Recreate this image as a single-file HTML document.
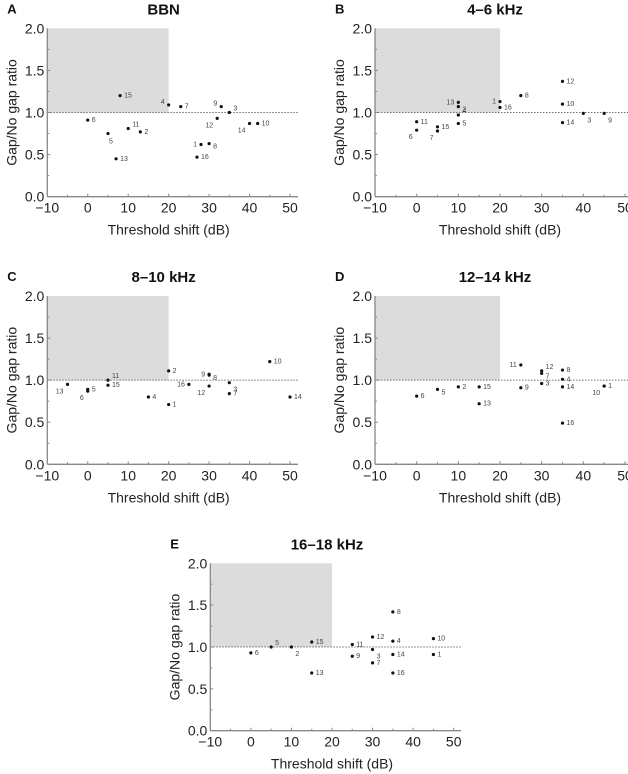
<!DOCTYPE html>
<html><head><meta charset="utf-8"><style>
html,body{margin:0;padding:0;background:#fff;}
svg{display:block;font-family:"Liberation Sans",Arial,sans-serif;}
</style></head><body>
<svg id="fig" width="628" height="774" viewBox="0 0 628 774" xmlns="http://www.w3.org/2000/svg"></svg>
<script>
// ---- data ----
const xTicks=[-10,0,10,20,30,40,50];
const yTicks=[0,0.5,1,1.5,2];
const yTickLabels=["0.0","0.5","1.0","1.5","2.0"];
const titles=["BBN","4–6 kHz","8–10 kHz","12–14 kHz","16–18 kHz"];
const letters=["A","B","C","D","E"];
// panel A
const aX=[0,5,7,8,10,13,20,23,27,28,30,32,33,35,40,42];
const aY=[0.91,0.75,0.45,1.2,0.81,0.77,1.09,1.07,0.47,0.62,0.63,0.93,1.07,1.0,0.87,0.87];
const aL=[6,5,13,15,11,2,4,7,16,1,8,12,9,3,14,10];
const aPos=["r","b","r","r","ru","r","lu","r","r","l","rd","lb","lu","ru","lb","r"];
// panel B
const bX=[0,0,5,5,10,10,10,10,20,20,25,35,35,35,40,45];
const bY=[0.89,0.79,0.83,0.78,1.12,1.07,0.97,0.87,1.13,1.06,1.2,1.37,1.1,0.88,0.99,0.99];
const bL=[11,6,15,7,13,2,4,5,1,16,8,12,10,14,3,9];
const bPos=["r","lb","r","lb","l","rd","ru","r","l","r","r","r","r","r","rb","rb"];
// panel C
const cX=[-5,0,0,5,5,15,20,20,25,30,30,30,35,35,45,50];
const cY=[0.95,0.89,0.87,1.0,0.94,0.8,1.11,0.71,0.95,1.07,1.06,0.93,0.97,0.84,1.22,0.8];
const cL=[13,5,6,11,15,4,2,1,16,9,8,12,3,7,10,14];
const cPos=["lb","r","lb","ru","r","r","r","r","l","l","rd","lb","rb","r","r","r"];
// panel D
const dX=[0,5,10,15,15,25,25,30,30,30,35,35,35,35,45,45];
const dY=[0.81,0.89,0.92,0.92,0.72,1.18,0.91,1.11,1.08,0.96,1.12,1.01,0.92,0.49,0.93,0.93];
const dL=[6,5,2,15,13,11,9,12,7,3,8,4,14,16,1,10];
const dPos=["r","rd","r","r","r","l","r","ru","rd","r","r","r","r","r","r","lb"];
// panel E
const eX=[0,5,10,15,15,25,25,30,30,30,35,35,35,35,45,45];
const eY=[0.93,1.0,1.0,1.06,0.69,1.03,0.89,1.12,0.97,0.81,1.42,1.07,0.91,0.69,1.1,0.91];
const eL=[6,5,2,15,13,11,9,12,3,7,8,4,14,16,10,1];
const ePos=["r","ru","rb","r","r","r","r","r","rb","r","r","r","r","r","r","r"];

const panels=[
 {x0:47.3,x1:290,xEnd:298,y2:28.3,y0:196.7,X:aX,Y:aY,L:aL,P:aPos},
 {x0:375,x1:625,xEnd:628,y2:28.3,y0:196.7,X:bX,Y:bY,L:bL,P:bPos},
 {x0:47.3,x1:290,xEnd:298,y2:296,y0:464.3,X:cX,Y:cY,L:cL,P:cPos},
 {x0:375,x1:625,xEnd:628,y2:296,y0:464.3,X:dX,Y:dY,L:dL,P:dPos},
 {x0:210.3,x1:453.7,xEnd:461,y2:563.3,y0:730.7,X:eX,Y:eY,L:eL,P:ePos}
];
const NS="http://www.w3.org/2000/svg";
const svg=document.getElementById('fig');
function mk(tag,attrs,parent,txt){const e=document.createElementNS(NS,tag);for(const k in attrs)e.setAttribute(k,attrs[k]);if(txt!==undefined)e.textContent=txt;parent.appendChild(e);return e;}
const off={r:[4,2],l:[-4,2],ru:[4,-2],lu:[-4,-1],rd:[4,5],rb:[4,9],lb:[-4,9],b:[1,10]};
panels.forEach((p,i)=>{
 const g=mk('g',{},svg);
 
 
 const sx=v=>p.x0+(v+10)*(p.x1-p.x0)/60;
 const sy=v=>p.y0-v*(p.y0-p.y2)/2;
 const sh=mk('rect',{x:sx(-10),y:sy(2),width:sx(20)-sx(-10),height:sy(1)-sy(2),fill:'#dcdcdc'},g);
 
 
 const ref=mk('line',{x1:sx(-10),x2:p.xEnd,y1:sy(1),y2:sy(1),stroke:'#444','stroke-width':0.8,'stroke-dasharray':'1.5,1.5'},g);
 
 
 const xa=mk('line',{x1:sx(-10),x2:p.xEnd,y1:p.y0,y2:p.y0,stroke:'#888','stroke-width':1.3},g);
 
 
 const ya=mk('line',{x1:sx(-10),x2:sx(-10),y1:p.y2,y2:p.y0,stroke:'#888','stroke-width':1.3},g);
 
 
 for(let v=-5;v<=50;v+=5){mk('line',{x1:sx(v),x2:sx(v),y1:p.y0,y2:p.y0-(v%10===0?3:2),stroke:'#888','stroke-width':1},g);}
 for(let v=0.25;v<2;v+=0.25){mk('line',{x1:sx(-10),x2:sx(-10)+(v%0.5===0?3:2),y1:sy(v),y2:sy(v),stroke:'#888','stroke-width':1},g);}
 xTicks.forEach(v=>{const t=mk('text',{x:sx(v),y:p.y0+16,'text-anchor':'middle','font-size':14,fill:'#222'},g,v<0?'−'+Math.abs(v):String(v));
  
  });
 yTicks.forEach((v,j)=>{const t=mk('text',{x:sx(-10)-3,y:sy(v)+5,'text-anchor':'end','font-size':14,fill:'#222'},g,yTickLabels[j]);
  
  });
 const cx=(sx(-10)+sx(50))/2;
 const xt=mk('text',{x:cx,y:p.y0+38,'text-anchor':'middle','font-size':14,fill:'#222'},g,'Threshold shift (dB)');
 
 
 const ymid=(p.y0+p.y2)/2;
 const yt=mk('text',{x:sx(-10)-31,y:ymid,'text-anchor':'middle','font-size':14,fill:'#222',transform:`rotate(-90 ${sx(-10)-31} ${ymid})`},g,'Gap/No gap ratio');
 
 
 const tt=mk('text',{x:cx-5,y:p.y2-14,'text-anchor':'middle','font-size':15,'font-weight':'bold',fill:'#111'},g,titles[i]);
 
 
 const lt=mk('text',{x:sx(-10)-40,y:p.y2-15,'font-size':13,'font-weight':'bold',fill:'#111'},g,letters[i]);
 
 
 p.X.forEach((xv,k)=>{
  const px=sx(xv),py=sy(p.Y[k]);
  const c=mk('circle',{cx:px,cy:py,r:1.6,fill:'#111'},g);
  
  
  const o=off[p.P[k]];
  const t=mk('text',{x:px+o[0],y:py+o[1],'text-anchor':o[0]<0?'end':'start','font-size':7,fill:'#444'},g,String(p.L[k]));
  
  
 });
});
</script>
</body></html>
